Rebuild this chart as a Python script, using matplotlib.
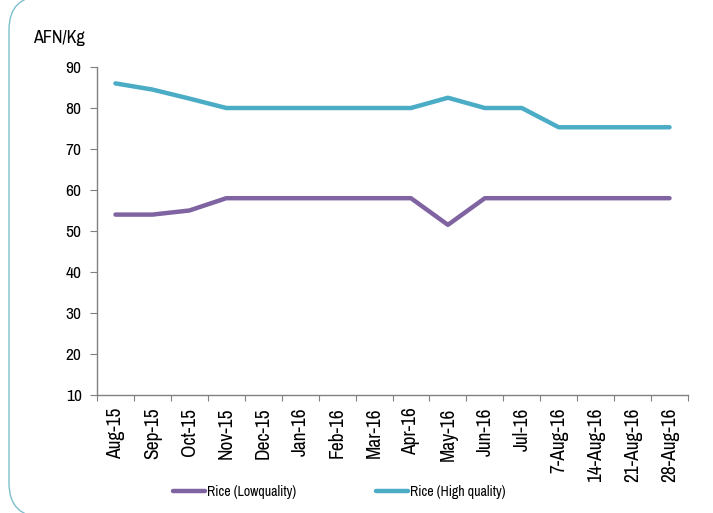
import matplotlib
matplotlib.use("Agg")
import matplotlib.pyplot as plt
from matplotlib.path import Path
from matplotlib.patches import PathPatch
from matplotlib.transforms import IdentityTransform
import numpy as np

categories = ["Aug-15", "Sep-15", "Oct-15", "Nov-15", "Dec-15", "Jan-16", "Feb-16", "Mar-16",
              "Apr-16", "May-16", "Jun-16", "Jul-16", "7-Aug-16", "14-Aug-16", "21-Aug-16", "28-Aug-16"]
rice_low = [54, 54, 55, 58, 58, 58, 58, 58, 58, 51.5, 58, 58, 58, 58, 58, 58]
rice_high = [86, 84.5, 82.3, 80, 80, 80, 80, 80, 80, 82.5, 80, 80, 75.3, 75.3, 75.3, 75.3]

plt.rcParams['font.family'] = ['Archivo Narrow', 'Roboto Condensed', 'DejaVu Sans']

fig = plt.figure(figsize=(7.13, 5.13), dpi=100)
W, H = 713, 513
ax = fig.add_axes([97 / W, 1 - 395 / H, (688 - 97) / W, (395 - 67) / H])

# decorative rounded frame on the left (pixel coordinates, origin bottom-left)
r = 34
left, top, bottom = 9, H + 4, -4
verts = [(800, top), (left + r, top), (left, top), (left, top - r),
         (left, bottom + r), (left, bottom), (left + r, bottom)]
codes = [Path.MOVETO, Path.LINETO, Path.CURVE3, Path.CURVE3,
         Path.LINETO, Path.CURVE3, Path.CURVE3]
frame = PathPatch(Path(verts, codes), transform=IdentityTransform(), fill=False,
                  edgecolor="#7dbfcc", linewidth=1.0, zorder=0, clip_on=False)
fig.patches.append(frame)

x = np.arange(len(categories))
ax.plot(x, rice_low, color="#8064A2", lw=3.2, label="Rice (Lowquality)", solid_capstyle="round")
ax.plot(x, rice_high, color="#4BACC6", lw=3.2, label="Rice (High quality)", solid_capstyle="round")

ax.set_xlim(-0.5, len(categories) - 0.5)
ax.set_ylim(10, 90)
ax.set_yticks(range(10, 91, 10))
ax.set_xticks(np.arange(-0.5, len(categories), 1.0))
ax.set_xticklabels([])
ax.set_xticks(x, minor=True)
ax.set_xticklabels(categories, minor=True, rotation=90, fontsize=14)
ax.tick_params(axis="x", which="minor", length=0, pad=9)
ax.tick_params(axis="x", which="major", length=4.5, color="#808080", direction="out")
ax.tick_params(axis="y", length=5, color="#808080", direction="out", labelsize=12.5, pad=6)

for s in ["top", "right"]:
    ax.spines[s].set_visible(False)
for s in ["left", "bottom"]:
    ax.spines[s].set_color("#808080")
    ax.spines[s].set_linewidth(1.0)

fig.text(33 / W, 1 - 38 / H, "AFN/Kg", fontsize=13, va="center", ha="left")

leg = ax.legend(loc="center", bbox_to_anchor=(0.41, -0.296), ncol=2, frameon=False,
                fontsize=10, handlelength=2.3, columnspacing=5.7, handletextpad=0.15)

fig.savefig("out.png", dpi=100)
